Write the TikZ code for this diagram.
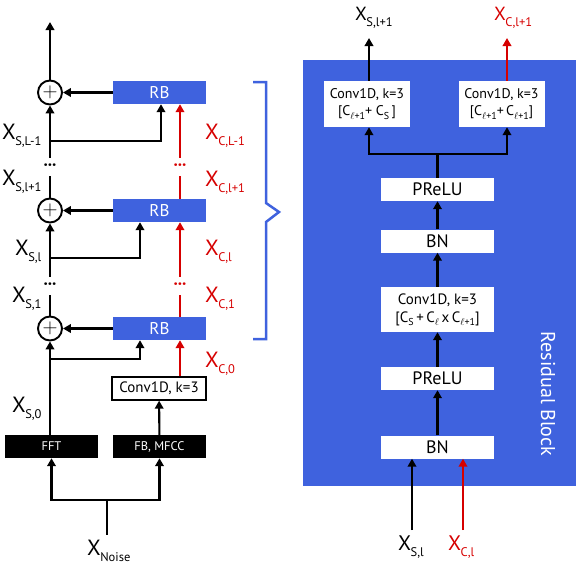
\documentclass[tikz,border=0pt]{standalone}
\usepackage{fontspec}
\setmainfont{PT Sans}
\usetikzlibrary{arrows.meta}
\usetikzlibrary{positioning}
\definecolor{rbblue}{RGB}{63,98,222}
\definecolor{xred}{RGB}{214,0,0}
\newcommand{\xsub}[1]{X\kern-0.5pt\raisebox{-6pt}{\fontsize{12.5}{12.5}\selectfont #1}}
\newcommand{\csub}[1]{C\raisebox{-3.5pt}{\fontsize{10}{10}\selectfont #1}}

\tikzset{
  wire/.style={line width=2.1pt},
  arr/.style={wire,-{Triangle[length=8pt,width=8.5pt]}},
  redarr/.style={arr,draw=xred},
  redwire/.style={wire,draw=xred},
  rbbox/.style={fill=rbblue,text=white,minimum width=93pt,minimum height=23pt,inner sep=0pt,font=\fontsize{17}{17}\selectfont},
  featbox/.style={fill=black,text=white,minimum width=93pt,minimum height=23pt,inner sep=0pt,font=\fontsize{12.5}{12.5}\selectfont},
  convbox/.style={draw=black,line width=1.3pt,fill=white,minimum width=94pt,minimum height=23pt,inner sep=0pt,font=\fontsize{15}{15}\selectfont},
  layer/.style={fill=white,minimum width=113pt,minimum height=23pt,inner sep=0pt,font=\fontsize{18}{18}\selectfont},
  outconv/.style={fill=white,align=center,minimum width=86pt,minimum height=46pt,inner sep=0pt,font=\fontsize{14}{17}\selectfont},
  sumnode/.style={draw,circle,line width=1.9pt,minimum size=24pt,inner sep=0pt,font=\fontsize{20}{20}\selectfont},
  dotsnode/.style={minimum height=18pt,inner sep=0pt,font=\fontsize{17}{17}\selectfont\bfseries},
  xlab/.style={anchor=base west,inner sep=0pt,font=\fontsize{22}{22}\selectfont},
}

\begin{document}
\begin{tikzpicture}[x=1pt,y=-1pt]
\useasboundingbox (0,0) rectangle (576,566);

% stack of residual blocks
\node[rbbox] (rb1) at (159.5,92.5) {RB};
\node[rbbox] (rb2) at (159.5,210.5) {RB};
\node[rbbox] (rb3) at (159.5,328.5) {RB};
\node[sumnode] (p1) at (50,92.5) {$+$};
\node[sumnode] (p2) at (50,210.5) {$+$};
\node[sumnode] (p3) at (50,328.5) {$+$};
\node[convbox] (conv0) at (159,388.5) {Conv1D, k=3};
\node[featbox] (fft) at (51.5,446.5) {FFT};
\node[featbox] (fbmfcc) at (159.5,446.5) {FB, MFCC};
\node[dotsnode] (sdots1) at (50,167) {···};
\node[dotsnode] (sdots2) at (50,286) {···};
\node[dotsnode,text=xred] (cdots1) at (180,167) {···};
\node[dotsnode,text=xred] (cdots2) at (180,286) {···};

\coordinate (sout) at (50,22);
\coordinate (j1) at (50,141);
\coordinate (j2) at (50,258);
\coordinate (j3) at (50,359);
\coordinate (nsplit) at (107,500);

\draw[arr] (p1) -- (sout);
\draw[arr] (rb1) -- (p1);
\draw[arr] (rb2) -- (p2);
\draw[arr] (rb3) -- (p3);
\draw[arr] (sdots1.north) -- (p1);
\draw[wire] (sdots1.south) -- (p2);
\draw[arr] (sdots2.north) -- (p2);
\draw[wire] (sdots2.south) -- (p3);
\draw[arr] (fft.north -| p3) -- (p3);
\draw[arr] (j1) -| ([xshift=1.5pt]rb1.south);
\draw[arr] (j2) -| ([xshift=-19.5pt]rb2.south);
\draw[arr] (j3) -| ([xshift=-19.5pt]rb3.south);

\draw[redarr] (cdots1.north) -- (cdots1 |- rb1.south);
\draw[redwire] (cdots1.south) -- (cdots1 |- rb2.north);
\draw[redarr] (cdots2.north) -- (cdots2 |- rb2.south);
\draw[redwire] (cdots2.south) -- (cdots2 |- rb3.north);
\draw[redarr] (cdots2 |- conv0.north) -- (cdots2 |- rb3.south);

\draw[arr] (fbmfcc) -- (conv0);
\draw[wire] (nsplit) -- ++(0,35);
\draw[arr] (nsplit) -| (fft);
\draw[arr] (nsplit) -| (fbmfcc);

\node[xlab] (xsL) at (2,139) {\xsub{S,L-1}};
\node[xlab] (xsl1) at (2,185) {\xsub{S,l+1}};
\node[xlab] (xsl) at (15,255) {\xsub{S,l}};
\node[xlab] (xs1) at (12,302) {\xsub{S,1}};
\node[xlab] (xs0) at (12,412) {\xsub{S,0}};
\node[xlab,text=xred] (xcL) at (205,139) {\xsub{C,L-1}};
\node[xlab,text=xred] (xcl1) at (205,186) {\xsub{C,l+1}};
\node[xlab,text=xred] (xcl) at (205,255) {\xsub{C,l}};
\node[xlab,text=xred] (xc1) at (205,302) {\xsub{C,1}};
\node[xlab,text=xred] (xc0) at (205,367) {\xsub{C,0}};
\node[xlab] (xnoise) at (87,555) {\xsub{Noise}};

\draw[rbblue,line width=2.5pt] (253,82) -| (266,203) -- (279,212) -- (266,222) |- (253,339);

% residual block
\node[fill=rbblue,minimum width=273pt,minimum height=426pt,inner sep=0pt] (resblock) at (439.5,273) {};
\node[rotate=-90,text=white,font=\fontsize{20}{20}\selectfont] (rblabel) at (548,394) {Residual Block};
\node[outconv] (convs) at (367,104) {Conv1D, k=3\\{}[\csub{$\ell$+1}+ \csub{S}\,]};
\node[outconv] (convc) at (501.5,104) {Conv1D, k=3\\{}[\csub{$\ell$+1}+\,\csub{$\ell$+1}]};
\node[layer] (prelu1) at (437.5,189.5) {PReLU};
\node[layer] (bn1) at (437.5,241) {BN};
\node[layer,minimum height=45pt,align=center,font=\fontsize{15}{18}\selectfont] (conv2) at (437.5,309.5) {Conv1D, k=3\\{}[\csub{S}\,+\,\csub{$\ell$}\,x\,\csub{$\ell$+1}]};
\node[layer] (prelu2) at (437.5,378.5) {PReLU};
\node[layer] (bn2) at (437.5,447) {BN};

\coordinate (sout2) at (369,38);
\coordinate (cout2) at (507,38);
\coordinate (fork) at (437.5,154);
\coordinate (sin) at (412,530);
\coordinate (cin) at (463,530);

\draw[arr] (sout2 |- convs.north) -- (sout2);
\draw[redarr] (cout2 |- convc.north) -- (cout2);
\draw[wire] (prelu1) -- (fork);
\draw[arr] (fork) -| (sout2 |- convs.south);
\draw[arr] (fork) -| (cout2 |- convc.south);
\draw[arr] (bn1) -- (prelu1);
\draw[arr] (conv2) -- (bn1);
\draw[arr] (prelu2) -- (conv2);
\draw[arr] (bn2) -- (prelu2);
\draw[arr] (sin) -- (sin |- bn2.south);
\draw[redarr] (cin) -- (cin |- bn2.south);

\node[xlab,font=\fontsize{19}{19}\selectfont] (xsout) at (355,20) {\xsub{S,l+1}};
\node[xlab,font=\fontsize{19}{19}\selectfont,text=xred] (xcout) at (494,20) {\xsub{C,l+1}};
\node[xlab,font=\fontsize{21}{21}\selectfont] (xsin) at (398,550) {\xsub{S,l}};
\node[xlab,font=\fontsize{21}{21}\selectfont,text=xred] (xcin) at (448,550) {\xsub{C,l}};
\end{tikzpicture}
\end{document}
